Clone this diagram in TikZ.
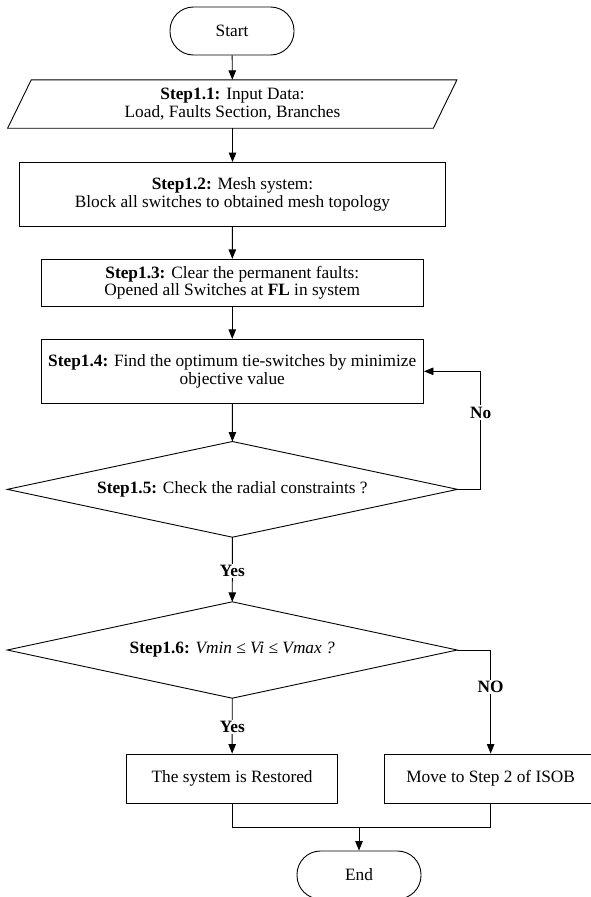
\documentclass[tikz,border=0pt]{standalone}
\usepackage{fontspec}
\setmainfont{Liberation Serif}
\usetikzlibrary{arrows.meta,calc}
\begin{document}
\begin{tikzpicture}[x=1pt,y=-1pt,
  every node/.style={font=\fontsize{17.3}{17.5}\selectfont, align=center, inner sep=0pt},
  proc/.style={draw, line width=0.9pt, rectangle},
  term/.style={draw, line width=0.9pt, rectangle, rounded corners=23.5pt, minimum width=124pt, minimum height=48pt},
  flow/.style={line width=0.9pt, -{Triangle[length=9.5pt,width=7.5pt]}},
  plainline/.style={line width=0.9pt},
  lbl/.style={font=\fontsize{17.3}{17.5}\selectfont\bfseries, fill=white, inner sep=1.5pt}]
\useasboundingbox (0,0) rectangle (591,897);
\node[term] (start) at (232,31) {Start};
\node[minimum width=425.3pt, minimum height=48pt] (s11) at (232.5,104) {\textbf{Step1.1:} Input Data:\\Load, Faults Section, Branches};
\draw[plainline] ($(s11.north west)+(11.6,0)$) -- ($(s11.north east)+(11.6,0)$) -- ($(s11.south east)+(-12,0)$) -- ($(s11.south west)+(-12,0)$) -- cycle;
\node[proc, minimum width=426pt, minimum height=64pt] (s12) at (232.5,194.5) {\textbf{Step1.2:} Mesh system:\\Block all switches to obtained mesh topology};
\node[proc, minimum width=382.5pt, minimum height=47.4pt] (s13) at (232.25,283) {\textbf{Step1.3:} Clear the permanent faults:\\Opened all Switches at \textbf{FL} in system};
\node[proc, minimum width=382.5pt, minimum height=64pt] (s14) at (232.25,371.3) {\textbf{Step1.4:} Find the optimum tie-switches by minimize\\objective value};
\node[minimum width=449.8pt, minimum height=95.3pt] (d15) at (232.4,489.35) {\textbf{Step1.5:} Check the radial constraints ?};
\draw[plainline] (d15.north) -- (d15.east) -- (d15.south) -- (d15.west) -- cycle;
\node[minimum width=449.5pt, minimum height=96pt] (d16) at (232.25,650) {\textbf{Step1.6:} \textit{Vmin ≤ Vi ≤ Vmax ?}};
\draw[plainline] (d16.north) -- (d16.east) -- (d16.south) -- (d16.west) -- cycle;
\node[proc, minimum width=211pt, minimum height=49pt] (rest) at (232.15,778.5) {The system is Restored};
\node[proc, minimum width=212.7pt, minimum height=49pt] (isob) at (490.65,778.5) {Move to Step 2 of ISOB};
\node[term] (end) at (359,875) {End};
\draw[flow] (start) -- (s11);
\draw[flow] (s11) -- (s12);
\draw[flow] (s12) -- (s13);
\draw[flow] (s13) -- (s14);
\draw[flow] (s14) -- (d15.north);
\coordinate (loopx) at (480.7,489.35);
\draw[flow] (d15.east) -- (loopx) |- (s14.east);
\node[lbl] (no1) at (480.7,412.7) {No};
\draw[flow] (d15.south) -- (d16.north);
\node[lbl] (yes1) at (232.4,571) {Yes};
\coordinate (nox) at (490.65,650);
\draw[flow] (d16.east) -- (nox) -- (isob.north);
\node[lbl] (no2) at (490.65,687) {NO};
\draw[flow] (d16.south) -- (rest.north);
\node[lbl] (yes2) at (232.25,727) {Yes};
\coordinate (mL) at (232.15,827);
\coordinate (mR) at (490.65,827);
\coordinate (mM) at (359,827);
\draw[plainline] (rest.south) -- (mL) -- (mR) -- (isob.south);
\draw[flow] (mM) -- (end.north);
\end{tikzpicture}
\end{document}
